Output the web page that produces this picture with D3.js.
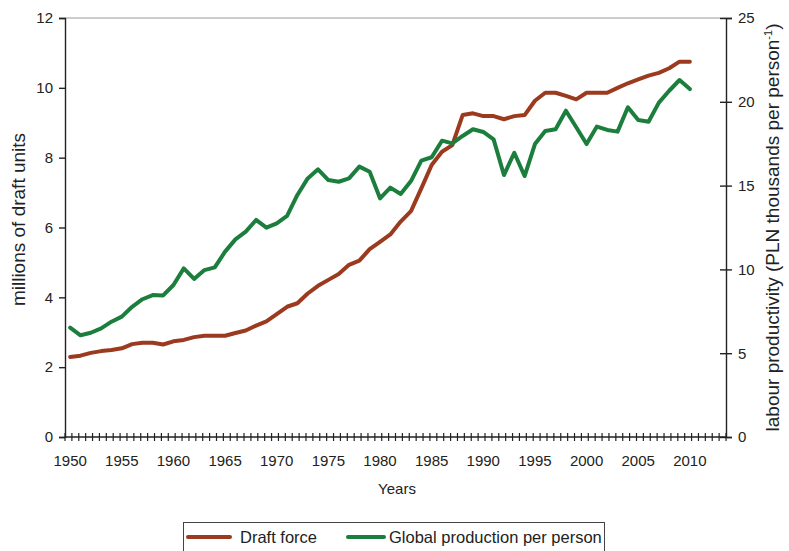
<!DOCTYPE html>
<html>
<head>
<meta charset="utf-8">
<script src="https://cdn.jsdelivr.net/npm/d3@7/dist/d3.min.js"></script>
<style>
  html, body { margin: 0; padding: 0; background: #fff; }
  svg { display: block; }
  text { font-family: "Liberation Sans", Arial, Helvetica, sans-serif; fill: #222; }
</style>
</head>
<body>
<svg id="chart" width="789" height="551"></svg>
<script>
// ---- data ----
const years = d3.range(1950, 2011);
const draftForce = [
  2.29, 2.33, 2.41, 2.46, 2.49, 2.54, 2.66, 2.70, 2.70, 2.65,
  2.74, 2.78, 2.86, 2.90, 2.90, 2.90, 2.98, 3.05, 3.19, 3.31,
  3.52, 3.73, 3.83, 4.11, 4.33, 4.50, 4.67, 4.93, 5.05, 5.38,
  5.59, 5.80, 6.17, 6.47, 7.12, 7.79, 8.17, 8.36, 9.22, 9.27,
  9.19, 9.19, 9.10, 9.19, 9.22, 9.63, 9.86, 9.86, 9.77, 9.67,
  9.86, 9.86, 9.86, 10.00, 10.13, 10.24, 10.35, 10.43, 10.56, 10.75,
  10.75
];
const productionPerPerson = [
  6.52, 6.07, 6.22, 6.48, 6.88, 7.18, 7.77, 8.22, 8.47, 8.45,
  9.07, 10.06, 9.43, 9.96, 10.12, 11.06, 11.79, 12.25, 12.95, 12.49,
  12.75, 13.19, 14.44, 15.43, 15.97, 15.33, 15.23, 15.43, 16.13, 15.83,
  14.24, 14.88, 14.50, 15.27, 16.49, 16.69, 17.68, 17.52, 17.96, 18.36,
  18.20, 17.76, 15.63, 16.96, 15.57, 17.48, 18.26, 18.36, 19.47, 18.48,
  17.48, 18.52, 18.32, 18.22, 19.67, 18.91, 18.81, 19.95, 20.66, 21.30,
  20.76
];
const yearLabels = d3.range(1950, 2011, 5);
const leftTicks = [0, 2, 4, 6, 8, 10, 12];
const rightTicks = [0, 5, 10, 15, 20, 25];
const seriesNames = ["Draft force", "Global production per person"];
const seriesColors = ["#9c3a20", "#1b7e3d"];

// ---- layout ----
const svg = d3.select("#chart");
const L = 65, R = 726, T = 18, B = 437;

const x = d3.scaleLinear().domain([1949.5, 2013.5]).range([L, R]);
const yL = d3.scaleLinear().domain([0, 12]).range([B, T]);
const yR = d3.scaleLinear().domain([0, 25]).range([B, T]);

// top gray line
svg.append("line").attr("x1", L).attr("x2", R).attr("y1", T).attr("y2", T)
  .attr("stroke", "#9a9a9a").attr("stroke-width", 1);

// left axis
const gL = svg.append("g").attr("transform", `translate(${L},0)`)
  .call(d3.axisLeft(yL).tickValues(leftTicks).tickSize(6).tickPadding(6).tickFormat(d3.format("d")));
gL.select(".domain").attr("stroke", "#222").attr("stroke-width", 1.4);
gL.selectAll(".tick line").attr("stroke", "#222").attr("stroke-width", 1.4);
gL.selectAll(".tick text").style("font-size", "15px").attr("fill", "#222")
  .style("font-family", "'Liberation Sans', Arial, sans-serif");

// right axis
const gR = svg.append("g").attr("transform", `translate(${R},0)`)
  .call(d3.axisRight(yR).tickValues(rightTicks).tickSize(6).tickPadding(6).tickFormat(d3.format("d")));
gR.select(".domain").attr("stroke", "#222").attr("stroke-width", 1.4);
gR.selectAll(".tick line").attr("x1", -6).attr("stroke", "#222").attr("stroke-width", 1.4);
gR.selectAll(".tick text").style("font-size", "15px").attr("fill", "#222")
  .style("font-family", "'Liberation Sans', Arial, sans-serif");

// bottom axis: minor ticks + labels
const minorTicks = d3.range(97).map(i => 1949.5 + i * 2 / 3);
const gB = svg.append("g").attr("transform", `translate(0,${B})`);
gB.append("line").attr("x1", L).attr("x2", R).attr("y1", 0).attr("y2", 0)
  .attr("stroke", "#222").attr("stroke-width", 1.4);
gB.selectAll("line.mt").data(minorTicks).join("line").attr("class", "mt")
  .attr("x1", d => x(d)).attr("x2", d => x(d)).attr("y1", -4).attr("y2", 4)
  .attr("stroke", "#222").attr("stroke-width", 1.2);
gB.selectAll("text.yl").data(yearLabels).join("text").attr("class", "yl")
  .attr("x", d => x(d)).attr("y", 29).attr("text-anchor", "middle")
  .style("font-size", "15px").text(d => d);

// axis titles
svg.append("text").attr("x", 397).attr("y", 494).attr("text-anchor", "middle")
  .style("font-family", "'Liberation Sans Narrow', 'Liberation Sans', Arial, sans-serif")
  .style("font-size", "15px").text("Years");

svg.append("text").attr("transform", `translate(25,${(T + B) / 2 - 8}) rotate(-90)`)
  .attr("text-anchor", "middle").style("font-size", "19px").text("millions of draft units");

const rt = svg.append("text").attr("transform", `translate(779,${(T + B) / 2}) rotate(-90)`)
  .attr("text-anchor", "middle").style("font-size", "19px");
rt.append("tspan").text("labour productivity (PLN thousands per person");
rt.append("tspan").attr("dy", -7).style("font-size", "11px").text("-1");
rt.append("tspan").attr("dy", 7).text(")");

// lines
const lineL = d3.line().x((d, i) => x(years[i])).y(d => yL(d));
const lineR = d3.line().x((d, i) => x(years[i])).y(d => yR(d));
svg.append("path").datum(draftForce).attr("d", lineL).attr("fill", "none")
  .attr("stroke", seriesColors[0]).attr("stroke-width", 4).attr("stroke-linejoin", "round").attr("stroke-linecap", "round");
svg.append("path").datum(productionPerPerson).attr("d", lineR).attr("fill", "none")
  .attr("stroke", seriesColors[1]).attr("stroke-width", 4).attr("stroke-linejoin", "round").attr("stroke-linecap", "round");

// legend
const lg = svg.append("g");
lg.append("rect").attr("x", 183.5).attr("y", 522.5).attr("width", 421).attr("height", 40)
  .attr("fill", "none").attr("stroke", "#444").attr("stroke-width", 1);
const legendItems = [
  { x1: 188, x2: 230, tx: 240 },
  { x1: 348, x2: 384, tx: 389 }
];
legendItems.forEach((it, i) => {
  lg.append("line").attr("x1", it.x1).attr("x2", it.x2).attr("y1", 537).attr("y2", 537)
    .attr("stroke", seriesColors[i]).attr("stroke-width", 4).attr("stroke-linecap", "round");
  lg.append("text").attr("x", it.tx).attr("y", 543).style("font-size", "16.5px").text(seriesNames[i]);
});
</script>
</body>
</html>
